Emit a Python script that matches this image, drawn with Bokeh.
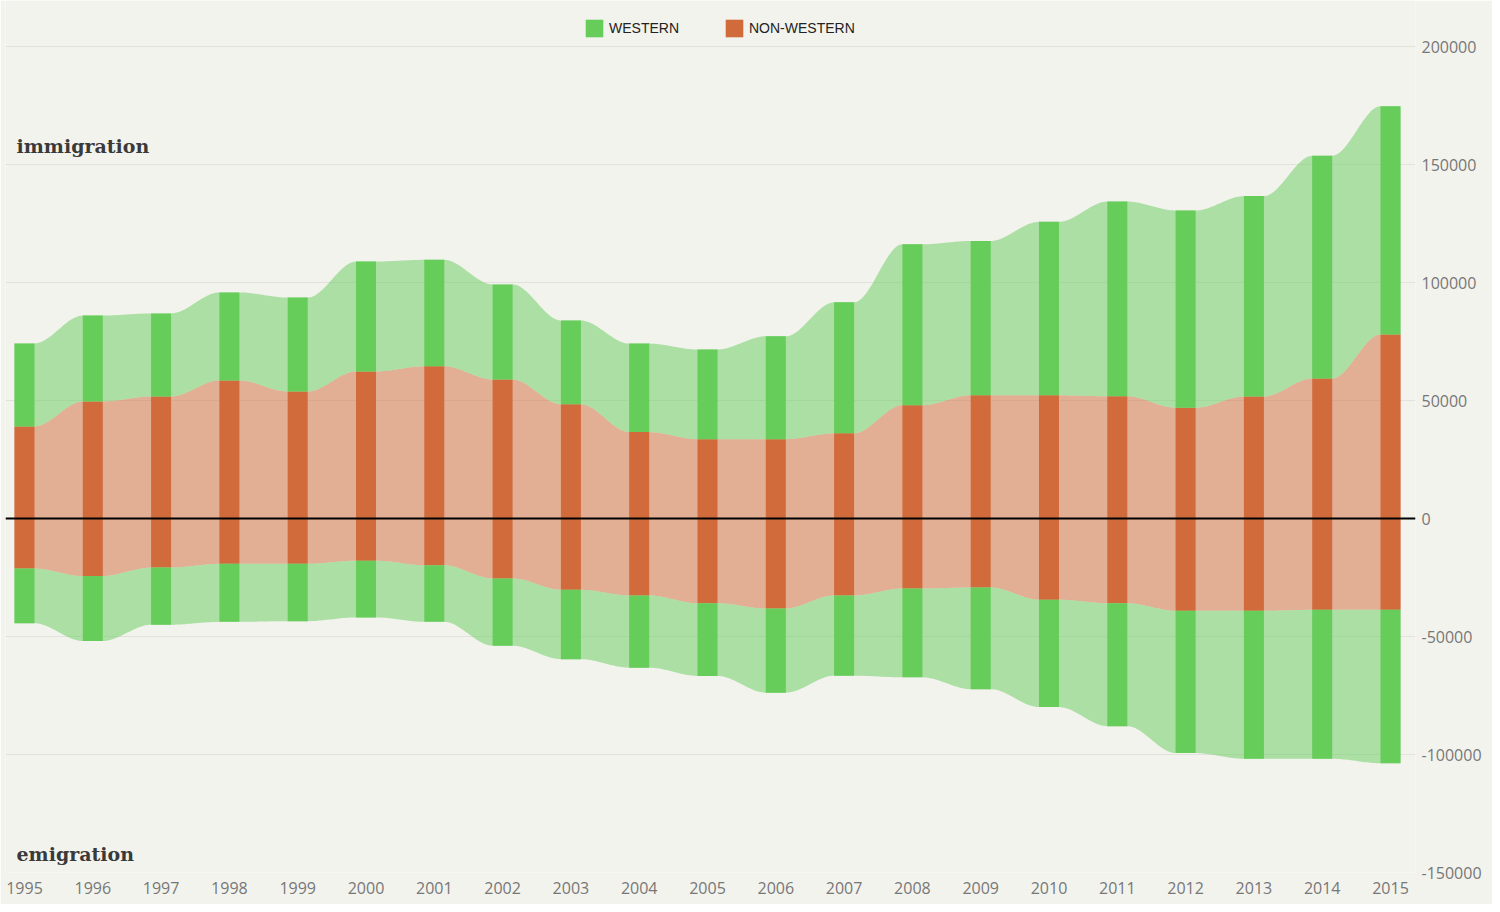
import numpy as np
from bokeh.plotting import figure
from bokeh.models import (Range1d, FixedTicker, Span, Label, Legend, LegendItem,
                          NumeralTickFormatter)
from bokeh.embed import file_html
from bokeh.resources import INLINE

# ---------------- data ----------------
years = list(range(1995, 2016))
year_labels = [str(y) for y in years]

# immigration (stacked: non-western at bottom, western on top)
imm_nonwestern = [39000, 49600, 51700, 58500, 53800, 62300, 64500, 58900, 48400, 36600,
                  33600, 33600, 36100, 48000, 52200, 52200, 51800, 46900, 51700, 59300, 78000]
imm_western = [35200, 36400, 35200, 37300, 39800, 46600, 45100, 40300, 35500, 37500,
               38000, 43600, 55500, 68200, 65400, 73500, 82500, 83600, 84900, 94400, 96700]

# emigration (stacked downwards: non-western next to zero, western below)
emi_nonwestern = [21200, 24400, 20800, 19200, 19200, 17900, 19800, 25400, 30200, 32600,
                  35900, 38100, 32600, 29700, 29200, 34400, 35900, 39100, 39100, 38700, 38700]
emi_western = [23200, 27500, 24200, 24600, 24300, 24000, 24000, 28500, 29400, 30600,
               30800, 35700, 34000, 37600, 43100, 45500, 52100, 60300, 62700, 63100, 65000]

y_ticks = [-150000, -100000, -50000, 0, 50000, 100000, 150000, 200000]

# ---------------- style ----------------
BG = "#f3f3ee"
GREEN = "#66cc5a"
ORANGE = "#d16b3c"
BAR_W = 0.293

imm_nw = np.array(imm_nonwestern, float)
imm_tot = imm_nw + np.array(imm_western, float)
emi_nw = -np.array(emi_nonwestern, float)
emi_tot = emi_nw - np.array(emi_western, float)


def smooth_edge(vals, n=24):
    """Outline of a band: flat across each bar, smooth S-curve between bars."""
    hw = BAR_W / 2
    xs, ys = [], []
    for i, (yr, v) in enumerate(zip(years, vals)):
        xs += [yr - hw, yr + hw]
        ys += [v, v]
        if i < len(years) - 1:
            x0, x1 = yr + hw, years[i + 1] - hw
            t = np.linspace(0, 1, n + 2)[1:-1]
            s = t * t * (3 - 2 * t)
            xs += list(x0 + (x1 - x0) * t)
            ys += list(v + (vals[i + 1] - v) * s)
    return np.array(xs), np.array(ys)


p = figure(width=1492, height=904, output_backend="svg", toolbar_location=None,
           x_range=Range1d(1994.722, 2015.366), y_range=Range1d(-150000, 219492),
           y_axis_location="right", min_border_left=5, min_border_right=77,
           min_border_top=0, min_border_bottom=32)
p.background_fill_color = BG
p.border_fill_color = BG
p.outline_line_color = None

p.xgrid.grid_line_color = None
p.ygrid.grid_line_color = "#e2e2dc"
p.ygrid.grid_line_width = 1
p.ygrid.ticker = FixedTicker(ticks=y_ticks)

# bands
xs, z = smooth_edge(np.zeros(len(years)))
_, e_imm_nw = smooth_edge(imm_nw)
_, e_imm_tot = smooth_edge(imm_tot)
_, e_emi_nw = smooth_edge(emi_nw)
_, e_emi_tot = smooth_edge(emi_tot)

p.varea(x=xs, y1=z, y2=e_imm_nw, fill_color=ORANGE, fill_alpha=0.5)
p.varea(x=xs, y1=e_imm_nw, y2=e_imm_tot, fill_color=GREEN, fill_alpha=0.5)
p.varea(x=xs, y1=z, y2=e_emi_nw, fill_color=ORANGE, fill_alpha=0.5)
p.varea(x=xs, y1=e_emi_nw, y2=e_emi_tot, fill_color=GREEN, fill_alpha=0.5)

# bars
r_or = p.vbar(x=years, width=BAR_W, bottom=0, top=imm_nw, fill_color=ORANGE, line_color=None)
r_gr = p.vbar(x=years, width=BAR_W, bottom=imm_nw, top=imm_tot, fill_color=GREEN, line_color=None)
p.vbar(x=years, width=BAR_W, bottom=emi_nw, top=0, fill_color=ORANGE, line_color=None)
p.vbar(x=years, width=BAR_W, bottom=emi_tot, top=emi_nw, fill_color=GREEN, line_color=None)

p.add_layout(Span(location=0, dimension="width", line_color="#000000", line_width=2))

# axes
ya = p.yaxis[0]
ya.ticker = FixedTicker(ticks=y_ticks)
ya.formatter = NumeralTickFormatter(format="0")
ya.axis_line_color = None
ya.major_tick_line_color = None
ya.minor_tick_line_color = None
ya.major_tick_in = 0
ya.major_tick_out = 0
ya.major_label_standoff = 6
ya.major_label_text_font = "Open Sans"
ya.major_label_text_font_size = "16px"
ya.major_label_text_color = "#777777"

xa = p.xaxis[0]
xa.ticker = FixedTicker(ticks=years)
xa.major_label_overrides = {y: l for y, l in zip(years, year_labels)}
xa.axis_line_color = None
xa.major_tick_line_color = None
xa.minor_tick_line_color = None
xa.major_tick_in = 0
xa.major_tick_out = 0
xa.major_label_standoff = 9
xa.major_label_text_font = "Open Sans"
xa.major_label_text_font_size = "16px"
xa.major_label_text_color = "#777777"

# side titles
for txt, yv in [("immigration", 158000), ("emigration", -142000)]:
    p.add_layout(Label(x=1994.883, y=yv, text=txt, text_font="DejaVu Serif",
                       text_font_style="bold", text_font_size="19px",
                       text_color="#3a3a3a", text_baseline="middle"))

# legend
legend = Legend(items=[LegendItem(label="WESTERN", renderers=[r_gr]),
                       LegendItem(label="NON-WESTERN", renderers=[r_or])],
                orientation="horizontal", location=(578, 833),
                glyph_width=22, glyph_height=22, label_standoff=4, spacing=44,
                padding=10, margin=0,
                label_text_font="Liberation Sans", label_text_font_size="14px",
                label_text_color="#222222",
                background_fill_alpha=0, border_line_color=None)
p.add_layout(legend)

open("out.html", "w").write(file_html(p, INLINE))
